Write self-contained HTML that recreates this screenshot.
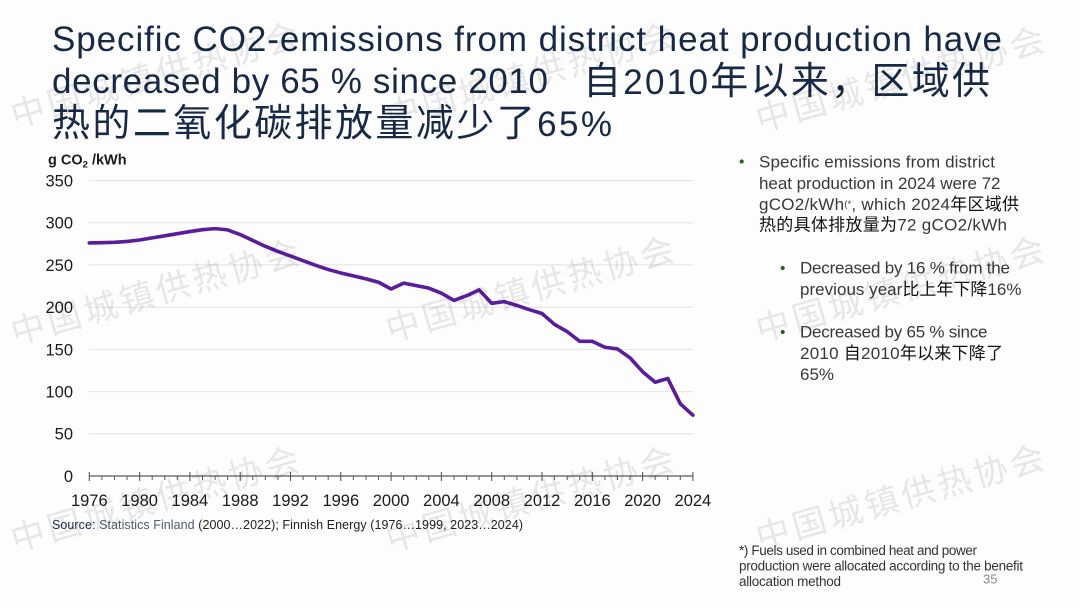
<!DOCTYPE html>
<html><head><meta charset="utf-8"><style>
html,body{margin:0;padding:0;background:#fdfdfd;}
svg{display:block;}
text{font-family:"Liberation Sans","Noto Sans CJK SC",sans-serif;}
.cjk{font-family:"Noto Sans CJK SC","Liberation Sans",sans-serif;}
</style></head><body>
<svg width="1080" height="608" viewBox="0 0 1080 608" xmlns="http://www.w3.org/2000/svg">
<rect width="1080" height="608" fill="#fdfdfd"/>

<!-- Title -->
<g fill="#172946">
<text x="52" y="51" font-size="35" textLength="950" lengthAdjust="spacing">Specific CO2-emissions from district heat production have</text>
<text x="52" y="93" font-size="35" textLength="496" lengthAdjust="spacing">decreased by 65 % since 2010</text>
<text x="583" y="94" font-size="35" textLength="407" lengthAdjust="spacing"><tspan class="cjk" font-size="38">自</tspan>2010<tspan class="cjk" font-size="38">年以来，区域供</tspan></text>
<text x="52" y="136" font-size="35" textLength="560" lengthAdjust="spacing"><tspan class="cjk" font-size="38">热的二氧化碳排放量减少了</tspan>65%</text>
</g>

<!-- Gridlines -->
<g stroke="#e2e2e2" stroke-width="1">
<line x1="89" y1="180.5" x2="693" y2="180.5"/>
<line x1="89" y1="222.7" x2="693" y2="222.7"/>
<line x1="89" y1="264.9" x2="693" y2="264.9"/>
<line x1="89" y1="307.2" x2="693" y2="307.2"/>
<line x1="89" y1="349.4" x2="693" y2="349.4"/>
<line x1="89" y1="391.6" x2="693" y2="391.6"/>
<line x1="89" y1="433.8" x2="693" y2="433.8"/>
</g>

<!-- Y labels -->
<g font-size="16.5" fill="#1a1a1a" text-anchor="end">
<text x="73" y="186.5">350</text>
<text x="73" y="228.5">300</text>
<text x="73" y="271">250</text>
<text x="73" y="313">200</text>
<text x="73" y="355.5">150</text>
<text x="73" y="397.5">100</text>
<text x="73" y="439.5">50</text>
<text x="73" y="482">0</text>
</g>
<text x="48" y="164.5" font-size="14.5" font-weight="bold" fill="#1a1a1a">g CO<tspan font-size="9.5" dy="3">2</tspan><tspan dy="-3"> /kWh</tspan></text>

<!-- X axis -->
<g stroke="#5a5a5a" stroke-width="1.2">
<line x1="89.3" y1="476" x2="692.9" y2="476"/>
</g>
<g stroke="#5a5a5a" stroke-width="1.1">
<line x1="89.3" y1="472" x2="89.3" y2="481"/>
<line x1="139.6" y1="472" x2="139.6" y2="481"/>
<line x1="189.9" y1="472" x2="189.9" y2="481"/>
<line x1="240.2" y1="472" x2="240.2" y2="481"/>
<line x1="290.5" y1="472" x2="290.5" y2="481"/>
<line x1="340.8" y1="472" x2="340.8" y2="481"/>
<line x1="391.1" y1="472" x2="391.1" y2="481"/>
<line x1="441.4" y1="472" x2="441.4" y2="481"/>
<line x1="491.7" y1="472" x2="491.7" y2="481"/>
<line x1="542.0" y1="472" x2="542.0" y2="481"/>
<line x1="592.3" y1="472" x2="592.3" y2="481"/>
<line x1="642.6" y1="472" x2="642.6" y2="481"/>
<line x1="692.9" y1="472" x2="692.9" y2="481"/>
</g>
<g stroke="#5a5a5a" stroke-width="1">
<line x1="101.9" y1="476" x2="101.9" y2="480"/><line x1="114.5" y1="476" x2="114.5" y2="480"/><line x1="127.0" y1="476" x2="127.0" y2="480"/>
<line x1="152.2" y1="476" x2="152.2" y2="480"/><line x1="164.8" y1="476" x2="164.8" y2="480"/><line x1="177.3" y1="476" x2="177.3" y2="480"/>
<line x1="202.5" y1="476" x2="202.5" y2="480"/><line x1="215.1" y1="476" x2="215.1" y2="480"/><line x1="227.6" y1="476" x2="227.6" y2="480"/>
<line x1="252.8" y1="476" x2="252.8" y2="480"/><line x1="265.4" y1="476" x2="265.4" y2="480"/><line x1="277.9" y1="476" x2="277.9" y2="480"/>
<line x1="303.1" y1="476" x2="303.1" y2="480"/><line x1="315.7" y1="476" x2="315.7" y2="480"/><line x1="328.2" y1="476" x2="328.2" y2="480"/>
<line x1="353.4" y1="476" x2="353.4" y2="480"/><line x1="366.0" y1="476" x2="366.0" y2="480"/><line x1="378.5" y1="476" x2="378.5" y2="480"/>
<line x1="403.7" y1="476" x2="403.7" y2="480"/><line x1="416.3" y1="476" x2="416.3" y2="480"/><line x1="428.8" y1="476" x2="428.8" y2="480"/>
<line x1="454.0" y1="476" x2="454.0" y2="480"/><line x1="466.6" y1="476" x2="466.6" y2="480"/><line x1="479.1" y1="476" x2="479.1" y2="480"/>
<line x1="504.3" y1="476" x2="504.3" y2="480"/><line x1="516.9" y1="476" x2="516.9" y2="480"/><line x1="529.4" y1="476" x2="529.4" y2="480"/>
<line x1="554.6" y1="476" x2="554.6" y2="480"/><line x1="567.2" y1="476" x2="567.2" y2="480"/><line x1="579.7" y1="476" x2="579.7" y2="480"/>
<line x1="604.9" y1="476" x2="604.9" y2="480"/><line x1="617.5" y1="476" x2="617.5" y2="480"/><line x1="630.0" y1="476" x2="630.0" y2="480"/>
<line x1="655.2" y1="476" x2="655.2" y2="480"/><line x1="667.8" y1="476" x2="667.8" y2="480"/><line x1="680.3" y1="476" x2="680.3" y2="480"/>
</g>

<!-- X labels -->
<g font-size="16.5" fill="#1a1a1a" text-anchor="middle">
<text x="89.3" y="506">1976</text>
<text x="139.6" y="506">1980</text>
<text x="189.9" y="506">1984</text>
<text x="240.2" y="506">1988</text>
<text x="290.5" y="506">1992</text>
<text x="340.8" y="506">1996</text>
<text x="391.1" y="506">2000</text>
<text x="441.4" y="506">2004</text>
<text x="491.7" y="506">2008</text>
<text x="542.0" y="506">2012</text>
<text x="592.3" y="506">2016</text>
<text x="642.6" y="506">2020</text>
<text x="692.9" y="506">2024</text>
</g>

<!-- Series -->
<polyline fill="none" stroke="#5b1c9b" stroke-width="3.6" stroke-linejoin="round" stroke-linecap="round" vector-effect="non-scaling-stroke"
 transform="matrix(12.575 0 0 -0.8443 89.3 476)"
 points="0,276 1,276.3 2,276.8 3,277.8 4,279.5 5,282 6,284.5 7,287 8,289.5 9,291.7 10,293 11,291.5 12,286 13,279 14,272 15,266 16,260.5 17,255 18,249.5 19,244.5 20,240.5 21,237 22,233.5 23,229.5 24,221.5 25,228.5 26,225.5 27,222.5 28,216.5 29,208 30,213.5 31,220.5 32,204.5 33,206.5 34,202 35,197 36,192.5 37,179.5 38,171 39,159.5 40,159.5 41,152.5 42,150.5 43,140 44,123.5 45,111 46,115.5 47,85.5 48,72"/>

<!-- Source -->
<text x="52" y="529" font-size="12.5" textLength="471" lengthAdjust="spacing" fill="#222"><tspan fill="#1d2c4a">Source: </tspan><tspan fill="#4f5b6b">Statistics Finland</tspan> (2000…2022); Finnish Energy (1976…1999, 2023…2024)</text>

<!-- Right bullet text -->
<g fill="#2e5e2a">
<circle cx="741.7" cy="161.5" r="2.1"/>
<circle cx="782.7" cy="268" r="2.1"/>
<circle cx="782.7" cy="332" r="2.1"/>
</g>
<g font-size="17" fill="#383838">
<text x="759" y="167.3" textLength="236" lengthAdjust="spacing">Specific emissions from district</text>
<text x="759" y="189" textLength="241.5" lengthAdjust="spacing">heat production in 2024 were 72</text>
<text x="759" y="210" textLength="260" lengthAdjust="spacing">gCO2/kWh<tspan font-size="9" dy="-3">(*</tspan><tspan dy="3">, which 2024</tspan><tspan class="cjk" fill="#111">年区域供</tspan></text>
<text x="759" y="230.7" textLength="248" lengthAdjust="spacing"><tspan class="cjk" fill="#111">热的具体排放量为</tspan>72 gCO2/kWh</text>
<text x="800" y="273.3" textLength="210" lengthAdjust="spacing">Decreased by 16 % from the</text>
<text x="800" y="295" textLength="221.5" lengthAdjust="spacing">previous year<tspan class="cjk" fill="#111">比上年下降</tspan>16%</text>
<text x="800" y="337.3" textLength="187.5" lengthAdjust="spacing">Decreased by 65 % since</text>
<text x="800" y="359" textLength="203" lengthAdjust="spacing">2010 <tspan class="cjk" fill="#111">自</tspan>2010<tspan class="cjk" fill="#111">年以来下降了</tspan></text>
<text x="800" y="380">65%</text>
</g>

<!-- Footnote -->
<g font-size="13.5" fill="#333">
<text x="739" y="555" textLength="238" lengthAdjust="spacing">*) Fuels used in combined heat and power</text>
<text x="739" y="570.5" textLength="284" lengthAdjust="spacing">production were allocated according to the benefit</text>
<text x="739" y="586" textLength="102" lengthAdjust="spacing">allocation method</text>
</g>
<text x="983" y="583.5" font-size="13" fill="#8a8a8a">35</text>

<!-- Watermarks -->
<g class="cjk" font-size="34" fill="#000" fill-opacity="0.09">
<text class="cjk" x="15" y="128" textLength="298" lengthAdjust="spacing" transform="rotate(-16 15 128)">中国城镇供热协会</text>
<text class="cjk" x="390" y="128" textLength="298" lengthAdjust="spacing" transform="rotate(-16 390 128)">中国城镇供热协会</text>
<text class="cjk" x="760" y="132" textLength="298" lengthAdjust="spacing" transform="rotate(-16 760 132)">中国城镇供热协会</text>
<text class="cjk" x="15" y="345" textLength="298" lengthAdjust="spacing" transform="rotate(-16 15 345)">中国城镇供热协会</text>
<text class="cjk" x="390" y="342" textLength="298" lengthAdjust="spacing" transform="rotate(-16 390 342)">中国城镇供热协会</text>
<text class="cjk" x="760" y="342" textLength="298" lengthAdjust="spacing" transform="rotate(-16 760 342)">中国城镇供热协会</text>
<text class="cjk" x="15" y="552" textLength="298" lengthAdjust="spacing" transform="rotate(-16 15 552)">中国城镇供热协会</text>
<text class="cjk" x="390" y="552" textLength="298" lengthAdjust="spacing" transform="rotate(-16 390 552)">中国城镇供热协会</text>
<text class="cjk" x="760" y="550" textLength="298" lengthAdjust="spacing" transform="rotate(-16 760 550)">中国城镇供热协会</text>
</g>
</svg>
</body></html>
